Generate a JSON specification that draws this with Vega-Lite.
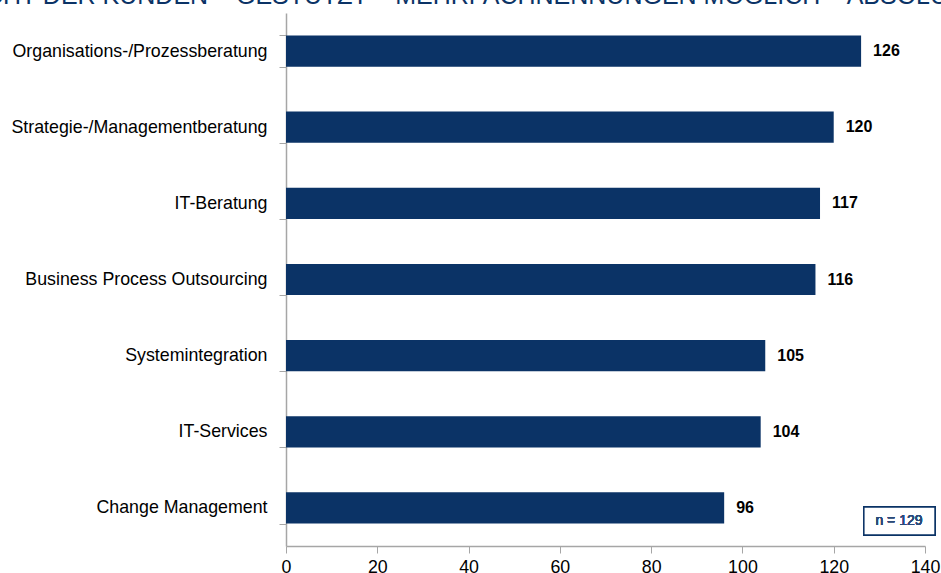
{
  "$schema": "https://vega.github.io/schema/vega-lite/v6.json",
  "autosize": {"type": "none"},
  "width": 639,
  "height": 533,
  "padding": {"left": 286, "top": 13, "right": 16, "bottom": 27},
  "background": "white",
  "title": {
    "text": "AUS SICHT DER KUNDEN – GESTÜTZT – MEHRFACHNENNUNGEN MÖGLICH – ABSOLUTE WERTE",
    "anchor": "start",
    "frame": "group",
    "dx": -383,
    "offset": -5,
    "limit": 3000,
    "font": "Liberation Sans",
    "fontSize": 25,
    "fontWeight": "normal",
    "color": "#0b3366"
  },
  "config": {
    "view": {"stroke": null},
    "font": "Liberation Sans"
  },
  "data": {
    "values": [
      {"kategorie": "Organisations-/Prozessberatung", "wert": 126},
      {"kategorie": "Strategie-/Managementberatung", "wert": 120},
      {"kategorie": "IT-Beratung", "wert": 117},
      {"kategorie": "Business Process Outsourcing", "wert": 116},
      {"kategorie": "Systemintegration", "wert": 105},
      {"kategorie": "IT-Services", "wert": 104},
      {"kategorie": "Change Management", "wert": 96}
    ]
  },
  "encoding": {
    "y": {
      "field": "kategorie",
      "type": "nominal",
      "sort": null,
      "scale": {"paddingInner": 0.59, "paddingOuter": 0.295},
      "axis": {
        "title": null,
        "tickBand": "extent",
        "domainColor": "#a6a6a6",
        "domainWidth": 1.5,
        "tickColor": "#a6a6a6",
        "tickWidth": 1,
        "tickSize": 7,
        "labelFontSize": 17.8,
        "labelColor": "#000000",
        "labelPadding": 12,
        "labelLimit": 0,
        "labelFont": "Liberation Sans",
        "grid": false
      }
    }
  },
  "layer": [
    {
      "mark": {"type": "bar", "color": "#0b3366"},
      "encoding": {
        "x": {
          "field": "wert",
          "type": "quantitative",
          "scale": {"domain": [0, 140]},
          "axis": {
            "title": null,
            "values": [0, 20, 40, 60, 80, 100, 120, 140],
            "grid": false,
            "domainColor": "#a6a6a6",
            "domainWidth": 1.5,
            "tickColor": "#a6a6a6",
            "tickSize": 7,
            "labelFontSize": 17.8,
            "labelColor": "#000000",
            "labelPadding": 5,
            "labelFont": "Liberation Sans",
            "labelFlush": false
          }
        }
      }
    },
    {
      "mark": {"type": "text", "align": "left", "baseline": "middle", "dx": 12, "fontSize": 16, "fontWeight": "bold", "color": "#000000"},
      "encoding": {
        "x": {"field": "wert", "type": "quantitative"},
        "text": {"field": "wert", "type": "quantitative"}
      }
    },
    {
      "mark": {"type": "bar", "fill": "white", "stroke": "#0b3366", "strokeWidth": 1.5, "size": 28, "yOffset": 13},
      "encoding": {
        "x": {"datum": 126.6},
        "x2": {"datum": 142.2},
        "y": {"datum": "Change Management"}
      }
    },
    {
      "mark": {"type": "text", "align": "center", "baseline": "middle", "fontSize": 14, "fontWeight": "normal", "color": "#2a4a7a", "yOffset": 13},
      "encoding": {
        "x": {"datum": 134.3},
        "y": {"datum": "Change Management"},
        "text": {"value": "n = 129"}
      }
    }
  ]
}
